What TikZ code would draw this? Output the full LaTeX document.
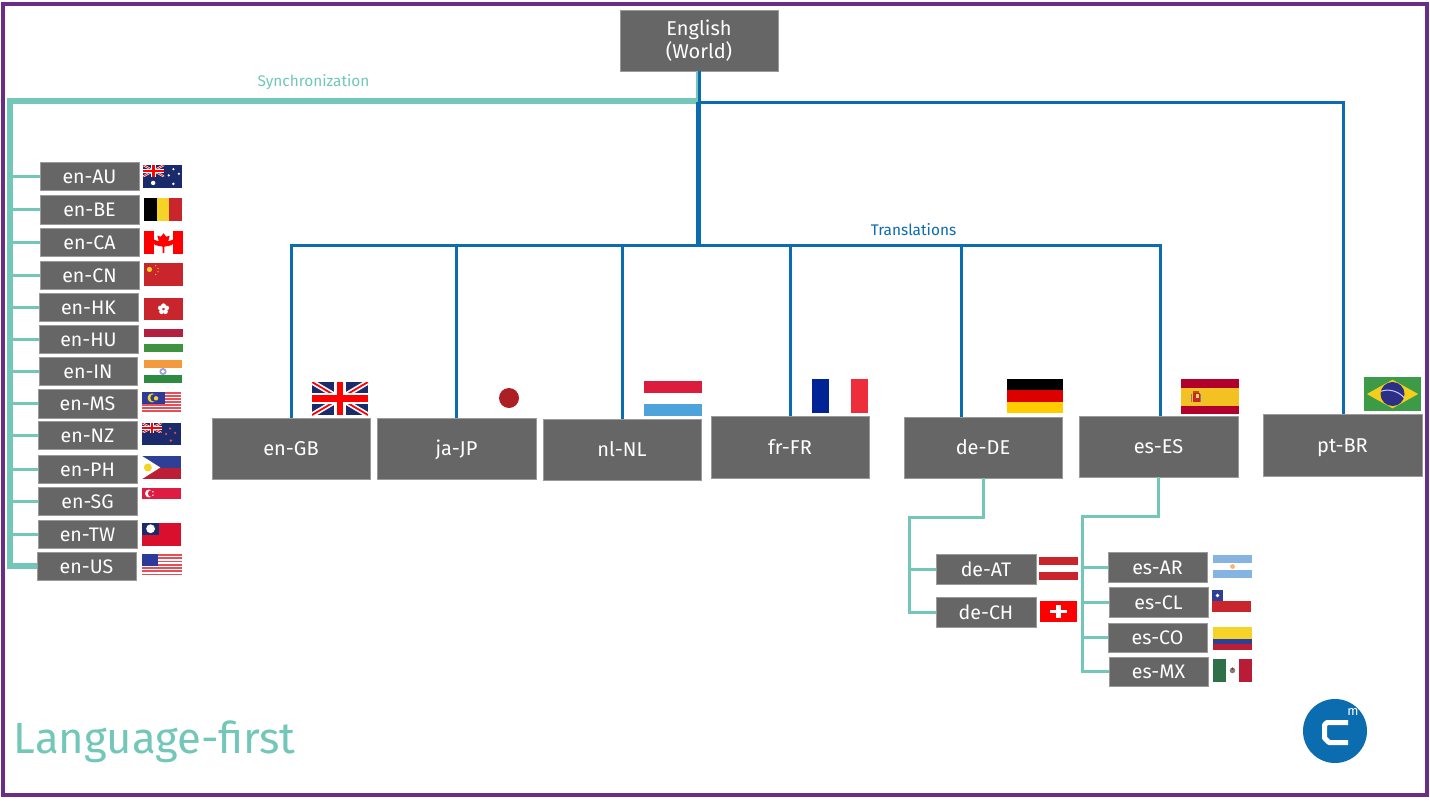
\documentclass[tikz,border=0pt]{standalone}
\usepackage{fontspec}
\setmainfont{Fira Sans}
\usetikzlibrary{calc}
\definecolor{boxgray}{HTML}{666666}
\definecolor{boxedge}{HTML}{9A9A9A}
\definecolor{tealc}{HTML}{72C7B9}
\definecolor{bluec}{HTML}{0B6CB0}
\definecolor{purplec}{HTML}{6A2C84}
\definecolor{navyf}{HTML}{1B2A6B}
\definecolor{redf}{HTML}{C8262C}
\definecolor{yelf}{HTML}{F5D327}
\definecolor{nlred}{HTML}{DC1C3C}
\definecolor{nlblue}{HTML}{4EA3DB}
\definecolor{frblue}{HTML}{002395}
\definecolor{frred}{HTML}{EE2D3A}
\definecolor{deblack}{HTML}{000000}
\definecolor{dered}{HTML}{DD0000}
\definecolor{deyel}{HTML}{FFCC00}
\definecolor{esred}{HTML}{B2002C}
\definecolor{esyel}{HTML}{F3C122}
\definecolor{brgreen}{HTML}{3D9A47}
\definecolor{brblue}{HTML}{2B2F86}
\definecolor{hured}{HTML}{B3203F}
\definecolor{hugreen}{HTML}{3F9240}
\definecolor{inor}{HTML}{F39A3C}
\definecolor{ingreen}{HTML}{2E8B42}
\definecolor{stripe}{HTML}{E2505A}
\definecolor{usblue}{HTML}{2C3A99}
\definecolor{phblue}{HTML}{2E3F96}
\definecolor{phred}{HTML}{BC1F35}
\definecolor{twred}{HTML}{D90F2D}
\definecolor{sgred}{HTML}{DE1C42}
\definecolor{arblue}{HTML}{85B4E2}
\definecolor{mxgreen}{HTML}{2F7048}
\definecolor{mxred}{HTML}{B91C36}
\definecolor{jpred}{HTML}{AC1F24}
\tikzset{
  langbox/.style={fill=boxgray,draw=boxedge,line width=.25pt,text=white,inner sep=0pt,font=\fontsize{9.8}{12}\selectfont,text height=7pt,text depth=0pt},
  bigbox/.style={langbox,font=\fontsize{10}{12}\selectfont},
  topbox/.style={fill=boxgray,draw=boxedge,line width=.25pt,text=white,inner sep=0pt,font=\fontsize{10}{12}\selectfont},
  smallbus/.style={draw=tealc,line width=1.5pt},
  fatbus/.style={draw=tealc,line width=2.8pt,line join=miter},
  bluebus/.style={draw=bluec,line width=1.5pt},
  fatblue/.style={draw=bluec,line width=2.5pt},
}
\newcommand\bx[7]{%
  \pgfmathsetmacro\bxw{(#4-#2)*0.5}\pgfmathsetmacro\bxh{(#5-#3)*0.5}%
  \node[#7,minimum width=\bxw pt,minimum height=\bxh pt,align=center] (#1) at ({(#2+#4)/2},{(#3+#5)/2}) {#6};}
\newcommand\fl[5]{\begin{scope}[shift={(#1,#2)},x={(#3,0)},y={(0,#4)}]#5\end{scope}}
\newcommand\rc[5]{\fill[#1] (#2,#3) rectangle (#4,#5);}
\newcommand\dotc[4]{\fill[#1] (#2,#3) circle[radius=#4pt];}
\newcommand\ujack[2]{%
  \rc{navyf}{0}{0}{1}{1}
  \begin{scope}
  \clip (0,0) rectangle (1,1);
  \draw[white,line width=#1pt] (0,0)--(1,1) (0,1)--(1,0);
  \draw[red,line width=#2pt] (0,0)--(1,1) (0,1)--(1,0);
  \end{scope}
  \rc{white}{0}{.34}{1}{.66}\rc{white}{.39}{0}{.61}{1}
  \rc{red}{0}{.4}{1}{.6}\rc{red}{.44}{0}{.56}{1}}
\begin{document}
\begin{tikzpicture}[x=0.5pt,y=-0.5pt]
\useasboundingbox (0,0) rectangle (1430,803);
\fill[white] (0,0) rectangle (1430,803);
\draw[purplec,line width=2pt] (2.5,3.5) rectangle (1427,795);

% ---- boxes
\bx{English}{620}{10}{778}{71}{English\\[-.3pt](World)}{topbox}
\bx{en-GB}{212}{418}{370}{479}{en-GB}{bigbox}
\bx{ja-JP}{377}{418}{536}{479}{ja-JP}{bigbox}
\bx{nl-NL}{543}{419}{701}{480}{nl-NL}{bigbox}
\bx{fr-FR}{711}{416}{869}{478}{fr-FR}{bigbox}
\bx{de-DE}{904}{417}{1062}{478}{de-DE}{bigbox}
\bx{es-ES}{1079}{416}{1238}{477}{es-ES}{bigbox}
\bx{pt-BR}{1263}{414}{1422}{476}{pt-BR}{bigbox}
\bx{en-AU}{40}{162}{139}{190}{en-AU}{langbox}
\bx{en-BE}{40}{195}{139}{224}{en-BE}{langbox}
\bx{en-CA}{40}{228}{139}{256}{en-CA}{langbox}
\bx{en-CN}{40}{261}{139}{289}{en-CN}{langbox}
\bx{en-HK}{39}{293}{138}{321}{en-HK}{langbox}
\bx{en-HU}{39}{325}{138}{353}{en-HU}{langbox}
\bx{en-IN}{39}{357}{137}{385}{en-IN}{langbox}
\bx{en-MS}{38}{389}{137}{418}{en-MS}{langbox}
\bx{en-NZ}{38}{421}{137}{449}{en-NZ}{langbox}
\bx{en-PH}{38}{455}{137}{483}{en-PH}{langbox}
\bx{en-SG}{38}{487}{137}{515}{en-SG}{langbox}
\bx{en-TW}{38}{520}{137}{548}{en-TW}{langbox}
\bx{en-US}{37}{552}{136}{580}{en-US}{langbox}
\bx{de-AT}{936}{554}{1036}{584}{de-AT}{langbox}
\bx{de-CH}{936}{597}{1036}{627}{de-CH}{langbox}
\bx{es-AR}{1108}{552}{1207}{582}{es-AR}{langbox}
\bx{es-CL}{1109}{587}{1208}{617}{es-CL}{langbox}
\bx{es-CO}{1108}{623}{1207}{652}{es-CO}{langbox}
\bx{es-MX}{1109}{657}{1208}{686}{es-MX}{langbox}

% ---- helper coordinates
\coordinate (trunk) at (10,101);
\coordinate (busY) at (698,245);
\coordinate (brY) at (1343,102);
\coordinate (deBend) at (909,517);
\coordinate (esBend) at (1082,516);

% ---- teal synchronization
\foreach \n in {en-AU,en-BE,en-CA,en-CN,en-HK,en-HU,en-IN,en-MS,en-NZ,en-PH,en-SG,en-TW}
  \draw[smallbus] (\n.west) -- (\n.west -| trunk);
\draw[fatbus] ([xshift=-.5pt]English.south |- trunk) -- (trunk) -- (en-US.west -| trunk) -- (en-US.west);
\draw[draw=tealc,line width=1.2pt] ([xshift=-1pt]English.south) -- ([xshift=-1pt]English.south |- trunk);

% ---- blue translations
\draw[bluebus] ([xshift=.25pt]English.south) -- ([xshift=.25pt]English.south |- brY);
\draw[fatblue] ([xshift=-.25pt]English.south |- brY) -- ([xshift=-.25pt]English.south |- busY);
\draw[bluebus] ([xshift=-.25pt]English.south |- brY) -- (brY) -- (pt-BR.north -| brY);
\draw[bluebus] ([xshift=-.75pt]en-GB.north |- busY) -- ([xshift=.75pt,xshift=.75pt]es-ES.north |- busY);
\foreach \n in {en-GB,ja-JP,nl-NL,fr-FR}
  \draw[bluebus] (\n.north) -- (\n.north |- busY);
\draw[bluebus] ([xshift=.75pt]es-ES.north) -- ([xshift=.75pt]es-ES.north |- busY);
\draw[bluebus] ([xshift=-11pt]de-DE.north) -- ([xshift=-11pt]de-DE.north |- busY);

% ---- teal variants
\draw[smallbus] (de-DE.south) -- (de-DE.south |- deBend) -- (deBend) -- (de-CH.west -| deBend) -- (de-CH.west);
\draw[smallbus] (de-AT.west) -- (de-AT.west -| deBend);
\draw[smallbus] (es-ES.south) -- (es-ES.south |- esBend) -- (esBend) -- (es-MX.west -| esBend) -- (es-MX.west);
\foreach \n in {es-AR,es-CL,es-CO}
  \draw[smallbus] (\n.west) -- (\n.west -| esBend);

% ---- labels
\node[text=tealc,font=\fontsize{7.7}{9}\selectfont] (lblSync) at (313.5,82) {Synchronization};
\node[text=bluec,font=\fontsize{7.7}{9}\selectfont] (lblTrans) at (913.5,230) {Translations};
\node[text=tealc,anchor=west,inner sep=0pt,font=\fontsize{21.8}{26}\selectfont] (lblTitle) at (13.5,742) {Language-first};

% ---- large flags
\fl{312}{382}{56}{33}{\ujack{2.6}{.9}}
\dotc{jpred}{509}{398}{5}
\fl{644}{381}{58}{35}{\rc{nlred}{0}{0}{1}{.34}\rc{nlblue}{0}{.66}{1}{1}}
\fl{812}{379}{56}{34}{\rc{frblue}{0}{0}{.3}{1}\rc{frred}{.69}{0}{1}{1}}
\fl{1007}{379}{56}{34}{\rc{deblack}{0}{0}{1}{.33}\rc{dered}{0}{.33}{1}{.67}\rc{deyel}{0}{.67}{1}{1}}
\fl{1181}{379}{58}{35}{\rc{esred}{0}{0}{1}{1}\rc{esyel}{0}{.25}{1}{.76}
  \rc{redf}{.2}{.4}{.32}{.66}\rc{orange!70!black}{.21}{.33}{.31}{.41}\rc{gray}{.17}{.42}{.19}{.66}\rc{gray}{.33}{.42}{.35}{.66}\rc{esyel!70!white}{.26}{.42}{.31}{.53}}
\fl{1364}{377}{57}{34}{\rc{brgreen}{0}{0}{1}{1}\fill[esyel!80!yellow] (.05,.5)--(.5,.08)--(.95,.5)--(.5,.92)--cycle;\dotc{brblue}{.5}{.5}{6}\draw[white!80!blue,line width=.5pt] (.3,.42) .. controls (.42,.34) and (.6,.4) .. (.71,.62);}

% ---- en-* flags
\fl{143}{165}{39}{23}{\rc{navyf}{0}{0}{1}{1}
  \begin{scope}[x={(.54,0)},y={(0,.5)}]\ujack{1}{.35}\end{scope}
  \dotc{white}{.26}{.78}{1.1}\dotc{white}{.78}{.18}{.6}\dotc{white}{.92}{.38}{.6}\dotc{white}{.66}{.45}{.6}\dotc{white}{.78}{.82}{.7}}
\fl{144}{198}{38}{23}{\rc{black}{0}{0}{.34}{1}\rc{yelf}{.34}{0}{.67}{1}\rc{redf}{.67}{0}{1}{1}}
\fl{144}{231}{39}{23}{\rc{red}{0}{0}{.26}{1}\rc{red}{.74}{0}{1}{1}
  \fill[red] (.5,.1)--(.57,.25)--(.66,.2)--(.62,.45)--(.74,.38)--(.78,.5)--(.7,.62)--(.52,.68)--(.52,.95)--(.48,.95)--(.48,.68)--(.3,.62)--(.22,.5)--(.26,.38)--(.38,.45)--(.34,.2)--(.43,.25)--cycle;}
\fl{144}{263}{39}{23}{\rc{redf}{0}{0}{1}{1}\dotc{yelf}{.14}{.28}{1.3}\dotc{yelf}{.3}{.12}{.35}\dotc{yelf}{.36}{.24}{.35}\dotc{yelf}{.36}{.38}{.35}\dotc{yelf}{.3}{.5}{.35}}
\fl{144}{298}{39}{22}{\rc{redf}{0}{0}{1}{1}
  \foreach \a in {90,162,234,306,18}{\fill[white] ({.5+.085*cos(\a)},{.5-.15*sin(\a)}) circle[radius=1.2pt];}\dotc{redf}{.5}{.5}{.4}}
\fl{144}{329}{39}{23}{\rc{hured}{0}{0}{1}{.34}\rc{hugreen}{0}{.66}{1}{1}}
\fl{144}{360}{38}{23}{\rc{inor}{0}{0}{1}{.33}\rc{ingreen}{0}{.67}{1}{1}\dotc{gray!50!blue!50!white}{.5}{.5}{1.8}\dotc{white}{.5}{.5}{.9}}
\fl{142}{392}{39}{21}{\foreach \i in {0,1,...,6}{\rc{stripe}{0}{\i/7}{1}{\i/7+.0714}}
  \rc{usblue}{0}{0}{.58}{.57}\dotc{yelf}{.26}{.28}{2.3}\dotc{usblue}{.31}{.28}{1.9}\dotc{yelf}{.36}{.3}{1.1}}
\fl{142}{423}{39}{22}{\rc{navyf}{0}{0}{1}{1}
  \begin{scope}[x={(.5,0)},y={(0,.45)}]\ujack{1}{.35}\end{scope}
  \dotc{stripe}{.72}{.25}{.6}\dotc{stripe}{.62}{.5}{.6}\dotc{stripe}{.85}{.45}{.6}\dotc{stripe}{.74}{.8}{.7}}
\fl{142}{456}{39}{23}{\rc{phblue}{0}{0}{1}{.5}\rc{phred}{0}{.5}{1}{1}\fill[white] (0,0)--(.47,.5)--(0,1)--cycle;\dotc{yelf}{.15}{.5}{2}}
\fl{142}{488}{39}{11}{\rc{sgred}{0}{0}{1}{1}\dotc{white}{.18}{.5}{2}\dotc{sgred}{.24}{.5}{1.7}\dotc{white}{.28}{.35}{.4}\dotc{white}{.28}{.65}{.4}}
\fl{142}{523}{39}{23}{\rc{twred}{0}{0}{1}{1}\rc{navyf}{0}{0}{.44}{.5}\dotc{white}{.22}{.25}{2.2}}
\fl{142}{554}{40}{23}{\foreach \i in {0,1,...,6}{\rc{stripe}{0}{\i/7}{1}{\i/7+.0714}}\rc{usblue}{0}{0}{.4}{.52}}

% ---- de-* and es-* flags
\fl{1039}{557}{39}{23}{\rc{redf}{0}{0}{1}{.33}\rc{redf}{0}{.67}{1}{1}}
\fl{1040}{601}{37}{21}{\rc{red}{0}{0}{1}{1}\rc{white}{.28}{.42}{.72}{.58}\rc{white}{.42}{.2}{.58}{.8}}
\fl{1213}{555}{39}{23}{\rc{arblue}{0}{0}{1}{.33}\rc{arblue}{0}{.67}{1}{1}\dotc{orange!60!white}{.5}{.5}{1.2}}
\fl{1212}{590}{39}{22}{\rc{redf}{0}{.5}{1}{1}\rc{phblue}{0}{0}{.28}{.5}\dotc{white}{.14}{.25}{.9}}
\fl{1213}{627}{39}{23}{\rc{yelf}{0}{0}{1}{.5}\rc{phblue}{0}{.5}{1}{.75}\rc{phred}{0}{.75}{1}{1}}
\fl{1213}{659}{39}{23}{\rc{mxgreen}{0}{0}{.33}{1}\rc{mxred}{.67}{0}{1}{1}\dotc{gray}{.5}{.5}{1.4}\dotc{orange!50!black}{.5}{.42}{.6}}

% ---- logo
\fill[bluec] (1335,731) circle[radius=16pt];
\draw[white,line width=2.5pt,line join=bevel] (1348,722.5) -- (1327,722.5) -- (1324.5,725) -- (1324.5,738) -- (1329,742.5) -- (1348,742.5);
\node[text=white,inner sep=0pt,font=\fontsize{6.5}{7}\selectfont] (logoM) at (1353,712) {m};
\end{tikzpicture}
\end{document}
